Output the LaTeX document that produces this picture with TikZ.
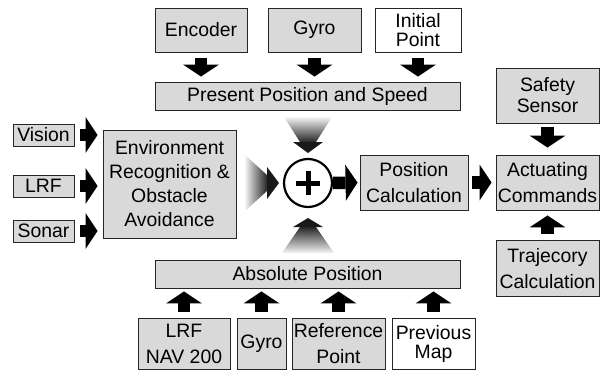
\documentclass[tikz,border=0pt]{standalone}
\usepackage{fontspec}
\setmainfont{Liberation Sans}
\usetikzlibrary{arrows.meta,calc}

\tikzset{
  box/.style={draw=black!85,line width=0.9pt,fill=black!15,inner sep=0pt,align=center,
    font=\fontsize{19.4}{26}\selectfont},
  wbox/.style={box,fill=white},
  tight/.style={font=\fontsize{19.4}{19}\selectfont},
  blk/.style={line width=12.5pt,-{Triangle[width=36pt,length=12pt,line width=0pt]},
    shorten <=6pt,shorten >=5pt},
  funnel/.style={draw=none},
}

\begin{document}
\begin{tikzpicture}[x=1pt,y=-1pt]
  \useasboundingbox (0,0) rectangle (605,372);
  % top row: sources of the present position
  \node (enc) [box,minimum width=92pt,minimum height=44pt] at (201,30) {Encoder};
  \node (gyrot) [box,minimum width=93pt,minimum height=44pt] at (314.5,30) {Gyro};
  \node (init) [wbox,tight,minimum width=86pt,minimum height=44pt] at (418,30) {Initial\\Point};
  \node (pps) [box,minimum width=305pt,minimum height=28pt] at (307.5,96) {Present Position and Speed};
  \draw[blk] (enc.south) -- (enc.south |- pps.north);
  \draw[blk] (gyrot.south) -- (gyrot.south |- pps.north);
  \draw[blk] (init.south) -- (init.south |- pps.north);

  % left column: sensors
  \node (vis) [box,minimum width=61pt,minimum height=22pt] at (43.5,135) {Vision};
  \node (lrf) [box,minimum width=61pt,minimum height=22pt] at (43.5,186) {LRF};
  \node (son) [box,minimum width=61pt,minimum height=22pt] at (43.5,231) {Sonar};
  \node (env) [box,font=\fontsize{19.4}{24}\selectfont,minimum width=133pt,minimum height=108pt]
    at (169.5,184) {Environment\\Recognition \&\\Obstacle\\Avoidance};
  \draw[blk] (vis.east) -- (vis.east -| env.west);
  \draw[blk] (lrf.east) -- (lrf.east -| env.west);
  \draw[blk] (son.east) -- (son.east -| env.west);

  % summing point
  \node (sum) [draw,circle,line width=2.2pt,minimum size=48pt,inner sep=0pt] at (308,183) {};
  \draw[line width=5pt] ($(sum)+(-12,0)$) -- ($(sum)+(12,0)$);
  \draw[line width=5pt] ($(sum)+(0,-12)$) -- ($(sum)+(0,12)$);
  \begin{scope}[shift={(sum)}]
    % from present position
    \shade[funnel,top color=black!4,bottom color=black!85]
      (-24,-66) -- (24,-66) -- (8,-41) -- (-8,-41) -- cycle;
    \fill[black!90] (-15,-41) -- (15,-41) -- (0,-30) -- cycle;
    % from environment recognition
    \shade[funnel,left color=black!4,right color=black!85]
      (-63,-28) -- (-41,-8) -- (-41,8) -- (-63,28) -- cycle;
    \fill[black!90] (-41,-16) -- (-29,0) -- (-41,16) -- cycle;
    % from absolute position
    \shade[funnel,top color=black!85,bottom color=black!4]
      (-26,70) -- (26,70) -- (8,44) -- (-8,44) -- cycle;
    \fill[black!90] (-15,44) -- (15,44) -- (0,35) -- cycle;
  \end{scope}

  % right part
  \node (pos) [box,minimum width=108pt,minimum height=55pt] at (414,182.5) {Position\\Calculation};
  \node (safe) [box,font=\fontsize{19.4}{21}\selectfont,minimum width=103pt,minimum height=55pt]
    at (547.5,95.5) {Safety\\Sensor};
  \node (act) [box,minimum width=103pt,minimum height=55pt] at (547.5,182.5) {Actuating\\Commands};
  \node (traj) [box,minimum width=103pt,minimum height=56pt] at (547.5,268.5) {Trajecory\\Calculation};
  \draw[blk,shorten <=0pt,shorten >=2pt] (sum.east) -- (pos.west);
  \draw[blk,shorten <=4pt,shorten >=4pt] (pos.east) -- (act.west);
  \draw[blk,shorten <=4pt,shorten >=7pt] (safe.south) -- (safe.south |- act.north);
  \draw[blk] (traj.north) -- (traj.north |- act.south);

  % bottom row: sources of the absolute position
  \node (abs) [box,minimum width=305pt,minimum height=28pt] at (307.5,274) {Absolute Position};
  \node (nav) [box,minimum width=92pt,minimum height=51pt] at (184,343.5) {LRF\\NAV 200};
  \node (gyrob) [box,minimum width=49pt,minimum height=51pt] at (261.5,343.5) {Gyro};
  \node (ref) [box,minimum width=93pt,minimum height=51pt] at (338.5,343.5) {Reference\\Point};
  \node (prev) [wbox,tight,minimum width=83pt,minimum height=51pt] at (433.5,343.5) {Previous\\Map};
  \draw[blk,shorten >=3pt] (nav.north) -- (nav.north |- abs.south);
  \draw[blk,shorten >=3pt] (gyrob.north) -- (gyrob.north |- abs.south);
  \draw[blk,shorten >=3pt] (ref.north) -- (ref.north |- abs.south);
  \draw[blk,shorten >=3pt] (prev.north) -- (prev.north |- abs.south);
\end{tikzpicture}
\end{document}
